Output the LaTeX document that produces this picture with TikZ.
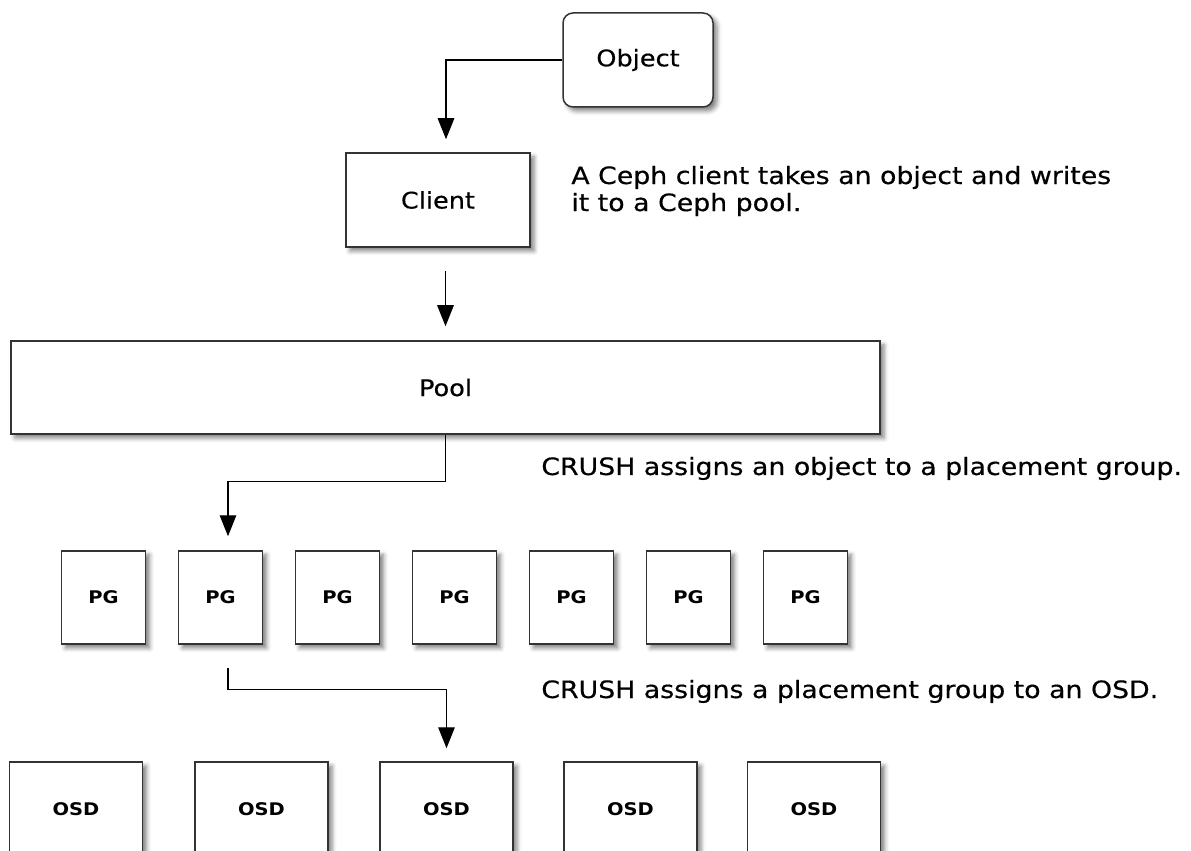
\documentclass[tikz,border=0pt]{standalone}
\usepackage{fontspec}
\setmainfont{DejaVu Sans}[FakeStretch=1.12, UprightFeatures={FakeBold=0.4}]
\usetikzlibrary{arrows.meta,shadows.blur}
\newcommand\notefont{\fontsize{13.6}{13.4}\selectfont\lineskiplimit=-20pt\relax}

\begin{document}
\begin{tikzpicture}[
	box/.style={draw=black!80, line width=0.85pt, fill=white, minimum height=1.88cm,
		blur shadow={shadow xshift=0.8mm, shadow yshift=-0.8mm, shadow blur radius=0.9mm, shadow opacity=50},
		font=\fontsize{13}{16}\selectfont},
	small/.style={box, font=\fontsize{9.9}{12}\selectfont\bfseries},
	link/.style={line width=0.8pt, -{Triangle[length=4.2mm,width=3.3mm]}},
	note/.style={inner sep=0pt, align=left, font=\notefont}
]
	\clip (0,0) rectangle (23.82,17);
	\node[box, rounded corners=2mm, minimum width=3cm] at (12.76,15.8) (obj) {Object};
	\node[box, minimum width=3.68cm] at (8.76,13) (cli) {Client};
	\node[box, minimum width=17.38cm, minimum height=1.86cm] at (8.91,9.25) (pool) {Pool};
	% placement groups
	\node[small, minimum width=1.68cm, minimum height=1.86cm] at (2.07,5.05) (pg1) {PG};
	\node[small, minimum width=1.68cm, minimum height=1.86cm] at (4.41,5.05) (pg2) {PG};
	\node[small, minimum width=1.68cm, minimum height=1.86cm] at (6.75,5.05) (pg3) {PG};
	\node[small, minimum width=1.68cm, minimum height=1.86cm] at (9.09,5.05) (pg4) {PG};
	\node[small, minimum width=1.68cm, minimum height=1.86cm] at (11.43,5.05) (pg5) {PG};
	\node[small, minimum width=1.68cm, minimum height=1.86cm] at (13.77,5.05) (pg6) {PG};
	\node[small, minimum width=1.68cm, minimum height=1.86cm] at (16.11,5.05) (pg7) {PG};
	% osds
	\node[small, minimum width=2.66cm] at (1.52,0.82) (osd1) {OSD};
	\node[small, minimum width=2.66cm] at (5.23,0.82) (osd2) {OSD};
	\node[small, minimum width=2.66cm] at (8.93,0.82) (osd3) {OSD};
	\node[small, minimum width=2.66cm] at (12.61,0.82) (osd4) {OSD};
	\node[small, minimum width=2.66cm] at (16.28,0.82) (osd5) {OSD};
	\draw [link, shorten >=2.6mm] (obj.west) -| ([xshift=1.6mm]cli.north);
	\draw [link, shorten <=4.6mm, shorten >=2.8mm] (cli.south -| pool.north) -- (pool.north);
	\draw [link, shorten >=2.8mm] (pool.south) -- ++(0,-0.94) -| ([xshift=1.5mm]pg2.north);
	\draw [link, shorten >=2.6mm] ([xshift=1.5mm,yshift=-4.6mm]pg2.south) -- ++(0,-0.44) -| (osd3.north);
	\node[note, anchor=north west] at (11.42,13.69) (n1) {A Ceph client takes an object and writes\\[2pt]it to a Ceph pool.};
	\node[note, anchor=base west] at (10.82,7.5) (n2) {CRUSH assigns an object to a placement group.};
	\node[note, anchor=base west] at (10.82,3.04) (n3) {CRUSH assigns a placement group to an OSD.};
\end{tikzpicture}
\end{document}
